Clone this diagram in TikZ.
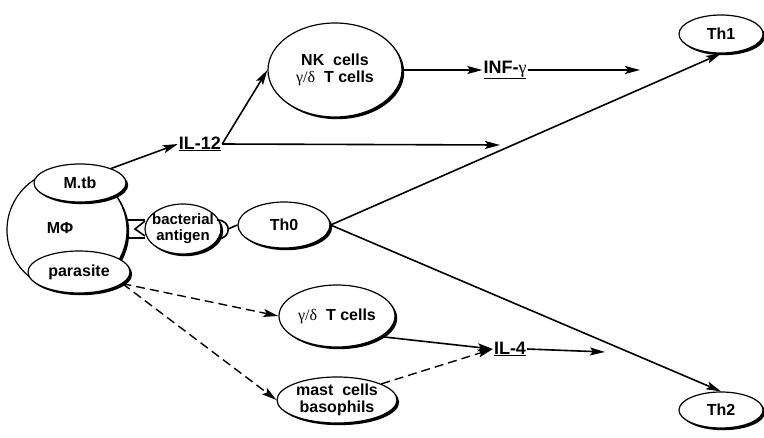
\documentclass[tikz,border=0pt]{standalone}
\usepackage{fontspec}
\setmainfont{Liberation Sans}
\newfontfamily\greekfont{Liberation Serif}
\usetikzlibrary{arrows.meta,shapes.geometric,shadows}

\begin{document}
\begin{tikzpicture}[x=1pt,y=-1pt,>={Stealth[length=15pt,width=8pt,inset=3pt]}]
        % Styles
        \tikzstyle{cell}=[ellipse,draw,line width=1.2pt,fill=white,inner sep=0pt,align=center,
            font=\bfseries\fontsize{16}{17}\selectfont,
            drop shadow={opacity=1,fill=black,shadow xshift=2.2pt,shadow yshift=-2.2pt}]
        \tikzstyle{cytokine}=[inner sep=1pt,font=\bfseries\fontsize{18}{19}\selectfont]
        \tikzstyle{important line}=[line width=1.6pt,->]
        \tikzstyle{weak line}=[line width=1.4pt,->,dash pattern=on 9pt off 5pt]
        \newcommand{\gd}{{\greekfont\mdseries γ/δ}}
        \useasboundingbox (0,0) rectangle (764,437);
        %macrophage and its cells
        \node[cell,circle,minimum size=120pt] (mphi) at (67,230) {};
        \node[inner sep=0pt,font=\bfseries\fontsize{16}{17}\selectfont] (mphitext) at (60,228) {MΦ};
        \node[cell,minimum width=92pt,minimum height=38pt] (mtb) at (80,183) {M.tb};
        \node[cell,minimum width=102pt,minimum height=42pt] (parasite) at (79,272) {parasite};
        \node[cell,minimum width=76pt,minimum height=50pt,inner xsep=-4pt,
            font=\bfseries\fontsize{15}{16}\selectfont] (antigen) at (183,229) {bacterial\\antigen};
        \node[cell,minimum width=92pt,minimum height=46pt] (th0) at (284,225) {Th0};
        %receptors
        \draw[line width=2pt] (127,220) -- (145,220) (127,238) -- (145,238);
        \draw[line width=1.6pt] (145,221) -- (135,229) -- (145,236);
        \draw[line width=1.6pt] (217,220) .. controls (232,220) and (232,239) .. (217,239);
        \draw[line width=1.6pt] (228,229) -- (th0.west);
        %effector cells
        \node[cell,minimum width=134pt,minimum height=94pt] (nk) at (335,70) {NK\ \ cells\\\gd\ \ T cells};
        \node[cell,minimum width=116pt,minimum height=62pt] (gd) at (337,316) {\gd\ \ T cells};
        \node[cell,minimum width=120pt,minimum height=46pt] (mast) at (337,400) {mast\ \ cells\\basophils};
        \node[cell,minimum width=84pt,minimum height=38pt] (th1) at (721,34) {Th1};
        \node[cell,minimum width=84pt,minimum height=36pt] (th2) at (721,410) {Th2};
        %cytokines
        \node[cytokine] (il12) at (200,144) {\underline{IL-12}};
        \node[cytokine] (inf) at (505,70) {\underline{INF-{\greekfont\mdseries γ}}};
        \node[cytokine] (il4) at (510,349) {\underline{IL-4}};
        \coordinate (il12end) at (500,145);
        \coordinate (infend) at (640,70);
        \coordinate (il4end) at (605,352);
        %arrows
        \draw[important line] (mtb.25) -- (il12.west);
        \draw[important line] (il12.east) -- (nk.west);
        \draw[important line] (il12.east) -- (il12end);
        \draw[important line] (nk.east) -- (inf.west);
        \draw[important line] (inf.east) -- (infend);
        \draw[important line] (th0.east) -- (th1.south);
        \draw[important line] (th0.east) -- (th2.north);
        \draw[weak line] (parasite.-15) -- (gd.west);
        \draw[weak line] (parasite.-15) -- (mast.west);
        \draw[important line] (gd.-25) -- (il4.west);
        \draw[weak line] (mast.20) -- (il4.west);
        \draw[important line] (il4.east) -- (il4end);
\end{tikzpicture}
\end{document}
